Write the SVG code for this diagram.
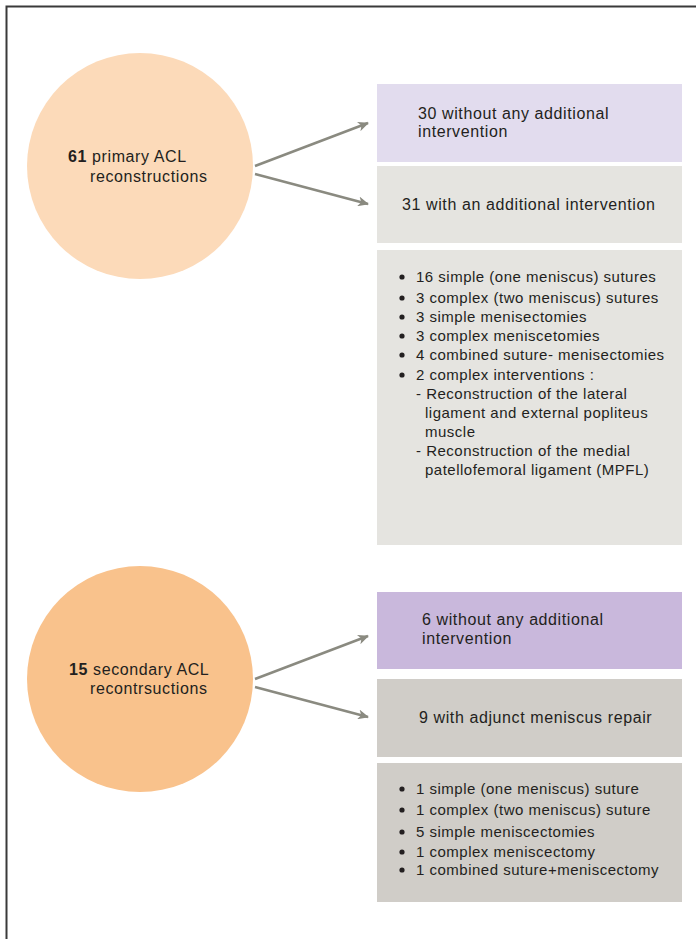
<svg xmlns="http://www.w3.org/2000/svg" width="696" height="939" viewBox="0 0 696 939">
<defs>
<style>
text{font-family:"Liberation Sans",Arial,sans-serif;font-size:16px;letter-spacing:0.6px;fill:#231f20}
text.li{font-size:15px;letter-spacing:0.5px}
.b{font-weight:bold}
.conn{stroke:#8a8a80;stroke-width:2.5;fill:none}
.dot{fill:#231f20}
</style>
<marker id="ah" markerWidth="12" markerHeight="10" refX="10" refY="5" orient="auto" markerUnits="userSpaceOnUse">
<path d="M0,0 L11,5 L0,10 L3,5 Z" fill="#8a8a80"/>
</marker>
</defs>
<rect width="696" height="939" fill="#fff"/>
<path d="M6.5,939 V6.5 H696" stroke="#3a3a3a" stroke-width="2" fill="none"/>

<g id="circle-primary">
<circle cx="140" cy="166" r="113" fill="#fcdab9"/>
<text x="68" y="162"><tspan class="b">61</tspan> primary ACL</text>
<text x="90" y="182">reconstructions</text>
</g>
<g id="box-30">
<rect x="377" y="84" width="305" height="78" fill="#e2dcee"/>
<text x="418" y="119">30 without any additional</text>
<text x="418" y="137">intervention</text>
</g>
<g id="box-31">
<rect x="377" y="166" width="305" height="77" fill="#e5e4e0"/>
<text x="402" y="210">31 with an additional intervention</text>
</g>
<g id="box-31-details">
<rect x="377" y="250" width="305" height="295" fill="#e5e4e0"/>
<circle class="dot" cx="402" cy="277" r="2.6"/>
<circle class="dot" cx="402" cy="298" r="2.6"/>
<circle class="dot" cx="402" cy="317" r="2.6"/>
<circle class="dot" cx="402" cy="336" r="2.6"/>
<circle class="dot" cx="402" cy="355" r="2.6"/>
<circle class="dot" cx="402" cy="375" r="2.6"/>
<text class="li" x="416" y="282">16 simple (one meniscus) sutures</text>
<text class="li" x="416" y="303">3 complex (two meniscus) sutures</text>
<text class="li" x="416" y="322">3 simple menisectomies</text>
<text class="li" x="416" y="341">3 complex meniscetomies</text>
<text class="li" x="416" y="360">4 combined suture- menisectomies</text>
<text class="li" x="416" y="380">2 complex interventions :</text>
<text class="li" x="416" y="399">- Reconstruction of the lateral</text>
<text class="li" x="425" y="418">ligament and external popliteus</text>
<text class="li" x="425" y="437">muscle</text>
<text class="li" x="416" y="456">- Reconstruction of the medial</text>
<text class="li" x="425" y="475">patellofemoral ligament (MPFL)</text>
</g>

<g id="circle-secondary">
<circle cx="140" cy="679" r="113" fill="#f9c28c"/>
<text x="69" y="675"><tspan class="b">15</tspan> secondary ACL</text>
<text x="90" y="694">recontrsuctions</text>
</g>
<g id="box-6">
<rect x="377" y="592" width="305" height="77" fill="#c9b8dc"/>
<text x="422" y="625">6 without any additional</text>
<text x="422" y="644">intervention</text>
</g>
<g id="box-9">
<rect x="377" y="679" width="305" height="78" fill="#d0cdc8"/>
<text x="419" y="723">9 with adjunct meniscus repair</text>
</g>
<g id="box-9-details">
<rect x="377" y="763" width="305" height="139" fill="#d0cdc8"/>
<circle class="dot" cx="402" cy="789" r="2.6"/>
<circle class="dot" cx="402" cy="810" r="2.6"/>
<circle class="dot" cx="402" cy="832" r="2.6"/>
<circle class="dot" cx="402" cy="852" r="2.6"/>
<circle class="dot" cx="402" cy="870" r="2.6"/>
<text class="li" x="416" y="794">1 simple (one meniscus) suture</text>
<text class="li" x="416" y="815">1 complex (two meniscus) suture</text>
<text class="li" x="416" y="837">5 simple meniscectomies</text>
<text class="li" x="416" y="857">1 complex meniscectomy</text>
<text class="li" x="416" y="875">1 combined suture+meniscectomy</text>
</g>

<g id="connectors">
<line class="conn" x1="255" y1="166" x2="368" y2="123" marker-end="url(#ah)"/>
<line class="conn" x1="255" y1="174" x2="368" y2="204" marker-end="url(#ah)"/>
<line class="conn" x1="255" y1="679" x2="368" y2="636" marker-end="url(#ah)"/>
<line class="conn" x1="255" y1="687" x2="368" y2="717" marker-end="url(#ah)"/>
</g>
</svg>
